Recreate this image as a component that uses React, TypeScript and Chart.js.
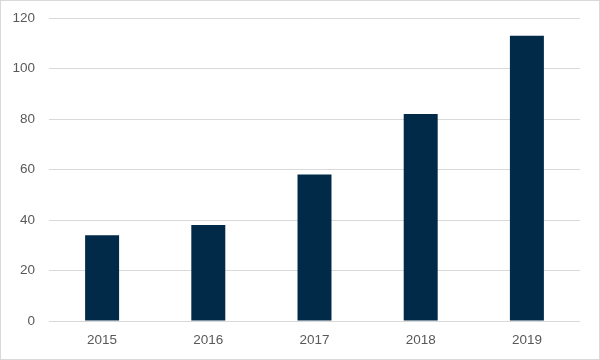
import React, { useEffect, useRef } from "react";
import { Chart, registerables } from "chart.js";

Chart.register(...registerables);

const categories = ["2015", "2016", "2017", "2018", "2019"];
const values = [34, 38, 58, 82, 113];
const yMin = 0;
const yMax = 120;
const yStep = 20;

export default function App() {
  const ref = useRef<HTMLCanvasElement | null>(null);

  useEffect(() => {
    document.body.style.margin = "0";
    if (!ref.current) return;
    const font = { family: "Liberation Sans, Arial, sans-serif", size: 13.5 };
    const chart = new Chart(ref.current, {
      type: "bar",
      data: {
        labels: categories,
        datasets: [
          {
            data: values,
            backgroundColor: "#002A48",
            borderWidth: 0,
            barPercentage: 0.8,
            categoryPercentage: 0.4,
          },
        ],
      },
      options: {
        animation: false,
        responsive: true,
        maintainAspectRatio: false,
        layout: { padding: { top: 17, right: 19, bottom: 0, left: 0 } },
        plugins: { legend: { display: false }, tooltip: { enabled: false } },
        scales: {
          x: {
            grid: { display: false, drawTicks: false },
            border: { display: false },
            ticks: { color: "#595959", font, padding: 11 },
            afterFit: (scale: any) => {
              scale.height = 38;
              scale.paddingLeft = 0;
              scale.paddingRight = 0;
            },
          },
          y: {
            min: yMin,
            max: yMax,
            grid: { color: "#d9d9d9", lineWidth: 1, drawTicks: false },
            border: { display: false },
            ticks: { stepSize: yStep, color: "#595959", font, padding: 14 },
            afterFit: (scale: any) => {
              scale.width = 48;
              scale.paddingTop = 0;
              scale.paddingBottom = 0;
            },
          },
        },
      },
    });
    return () => chart.destroy();
  }, []);

  return (
    <div
      style={{
        position: "absolute",
        left: 0,
        top: 0,
        width: 600,
        height: 360,
        border: "1px solid #d9d9d9",
        boxSizing: "border-box",
        background: "#fff",
      }}
    >
      <div style={{ position: "relative", width: 598, height: 358 }}>
        <canvas ref={ref} />
      </div>
    </div>
  );
}
